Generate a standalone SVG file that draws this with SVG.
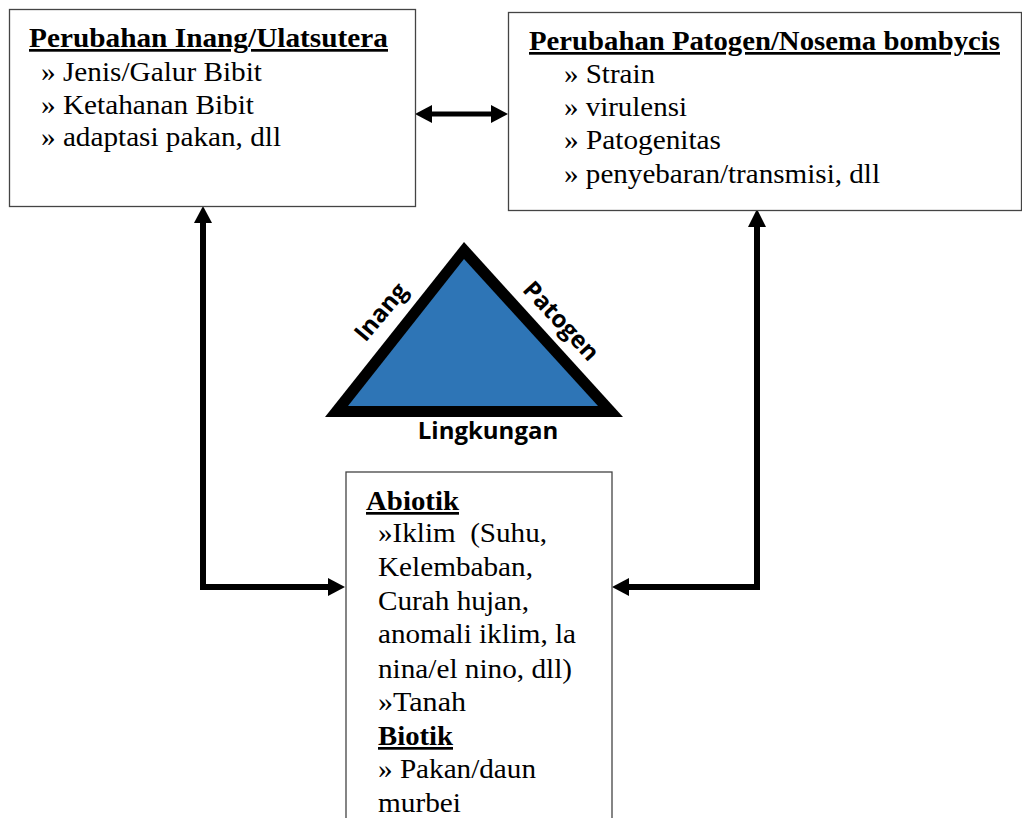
<svg xmlns="http://www.w3.org/2000/svg" width="1022" height="818" viewBox="0 0 1022 818">
<style>
.box{fill:#fff;stroke:#444;stroke-width:1.3}
.t{font-family:"Liberation Serif","Times New Roman",Times,Tinos,"Nimbus Roman","Nimbus Roman No9 L",FreeSerif,"TeX Gyre Termes","Noto Serif","DejaVu Serif",Georgia,serif;font-size:27px;font-weight:400;font-style:normal;fill:#000}
.h{font-weight:700;text-decoration:underline}
.lbl{font-family:"Open Sans","Liberation Sans",sans-serif;font-size:24px;font-weight:bold;fill:#000}
.shaft{fill:none;stroke:#000;stroke-linejoin:miter}
.head{fill:#000}
</style>
<rect width="1022" height="818" fill="#fff"/>
<g id="connectors">
<path class="shaft" d="M430 114 H493" stroke-width="5"/>
<polygon class="head" points="415,114 432,105 432,123"/>
<polygon class="head" points="508,114 491,105 491,123"/>
<path class="shaft" d="M330 587 H203 V221" stroke-width="6"/>
<polygon class="head" points="203,206 194,223 212,223"/>
<polygon class="head" points="345,587 328,578 328,596"/>
<path class="shaft" d="M627 587 H757 V224" stroke-width="6"/>
<polygon class="head" points="757,209 748,227 766,227"/>
<polygon class="head" points="612,587 629,578 629,596"/>
</g>
<g id="node-inang" font-family="Liberation Serif, serif">
<rect class="box" x="9.5" y="9.5" width="406" height="197"/>
<text class="t h" x="29" y="47" textLength="359" lengthAdjust="spacingAndGlyphs">Perubahan Inang/Ulatsutera</text>
<text class="t" x="41" y="81" textLength="221" lengthAdjust="spacingAndGlyphs">» Jenis/Galur Bibit</text>
<text class="t" x="41" y="113.5" textLength="213" lengthAdjust="spacingAndGlyphs">» Ketahanan Bibit</text>
<text class="t" x="41" y="146" textLength="240" lengthAdjust="spacingAndGlyphs">» adaptasi pakan, dll</text>
</g>
<g id="node-patogen">
<rect class="box" x="508.5" y="12.5" width="513" height="198"/>
<text class="t h" x="529" y="50" textLength="471" lengthAdjust="spacingAndGlyphs">Perubahan Patogen/Nosema bombycis</text>
<text class="t" x="564" y="83" textLength="91" lengthAdjust="spacingAndGlyphs">» Strain</text>
<text class="t" x="564" y="116" textLength="123" lengthAdjust="spacingAndGlyphs">» virulensi</text>
<text class="t" x="564" y="149" textLength="157" lengthAdjust="spacingAndGlyphs">» Patogenitas</text>
<text class="t" x="564" y="182.5" textLength="316" lengthAdjust="spacingAndGlyphs">» penyebaran/transmisi, dll</text>
</g>
<g id="node-triangle">
<polygon points="464,242 325,417 623,417" fill="#000"/>
<polygon points="464,259 348,406 598,406" fill="#2E75B6"/>
<text class="lbl" transform="translate(381,312) rotate(-50)" text-anchor="middle" dy="8">Inang</text>
<text class="lbl" transform="translate(561,321) rotate(47)" text-anchor="middle" dy="8">Patogen</text>
<text class="lbl" x="488" y="439" text-anchor="middle">Lingkungan</text>
</g>
<g id="node-lingkungan">
<rect class="box" x="346" y="472" width="266" height="360"/>
<text class="t h" x="366" y="510" textLength="93" lengthAdjust="spacingAndGlyphs">Abiotik</text>
<text class="t" x="378" y="542" xml:space="preserve" textLength="169" lengthAdjust="spacingAndGlyphs">»Iklim  (Suhu,</text>
<text class="t" x="378" y="576" textLength="155" lengthAdjust="spacingAndGlyphs">Kelembaban,</text>
<text class="t" x="378" y="610" textLength="151" lengthAdjust="spacingAndGlyphs">Curah hujan,</text>
<text class="t" x="378" y="643" textLength="198" lengthAdjust="spacingAndGlyphs">anomali iklim, la</text>
<text class="t" x="378" y="678" textLength="194" lengthAdjust="spacingAndGlyphs">nina/el nino, dll)</text>
<text class="t" x="378" y="711" textLength="88" lengthAdjust="spacingAndGlyphs">»Tanah</text>
<text class="t h" x="378" y="745" textLength="75" lengthAdjust="spacingAndGlyphs">Biotik</text>
<text class="t" x="378" y="778" textLength="158" lengthAdjust="spacingAndGlyphs">» Pakan/daun</text>
<text class="t" x="378" y="812" textLength="83" lengthAdjust="spacingAndGlyphs">murbei</text>
</g>
</svg>
